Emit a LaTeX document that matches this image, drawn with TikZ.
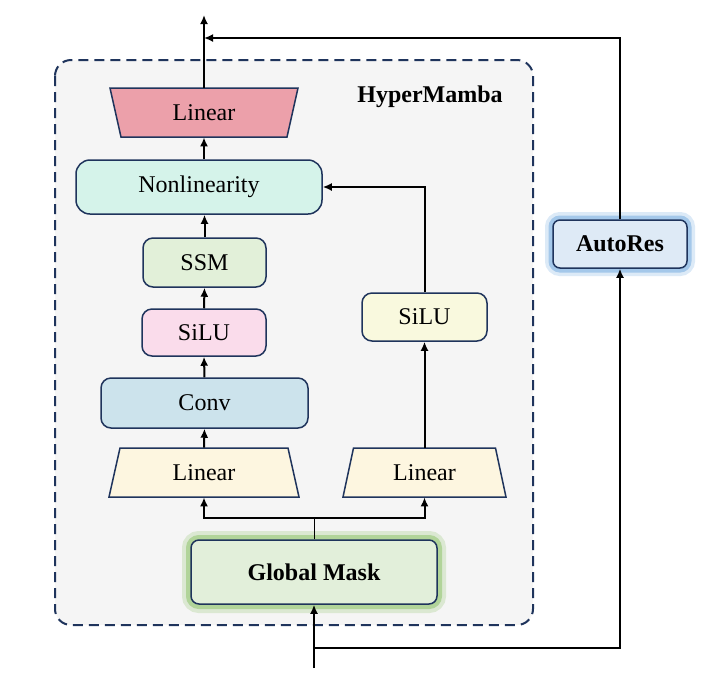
\documentclass[tikz,border=0pt]{standalone}
\usepackage{fontspec}
\setmainfont{Liberation Serif}
\usetikzlibrary{arrows.meta}
\pgfdeclarelayer{background}
\pgfsetlayers{background,main}

\definecolor{navy}{RGB}{31,52,92}
\definecolor{panelgray}{RGB}{245,245,245}
\definecolor{linred}{RGB}{236,160,170}
\definecolor{mint}{RGB}{213,243,234}
\definecolor{ssmgreen}{RGB}{226,240,217}
\definecolor{silupink}{RGB}{250,220,235}
\definecolor{convblue}{RGB}{204,227,236}
\definecolor{linyellow}{RGB}{253,246,224}
\definecolor{siluyellow}{RGB}{249,249,222}
\definecolor{maskfill}{RGB}{226,239,218}
\definecolor{maskglow}{RGB}{160,204,130}
\definecolor{resfill}{RGB}{222,234,246}
\definecolor{resglow}{RGB}{140,185,228}

% trapezoid behind a node: name, half bottom, half top, half height, fill
\newcommand{\linshape}[5]{%
  \begin{pgfonlayer}{background}
    \draw[draw=navy, line width=0.75pt, fill=#5]
      ([shift={(-#2,#4)}]#1.center) -- ([shift={(#2,#4)}]#1.center)
      -- ([shift={(#3,-#4)}]#1.center) -- ([shift={(-#3,-#4)}]#1.center) -- cycle;
  \end{pgfonlayer}}

\begin{document}
\begin{tikzpicture}[x=0.5pt, y=-0.5pt, font=\fontsize{12}{14}\selectfont,
  blk/.style={draw=navy, line width=0.75pt, rounded corners=5pt, inner sep=0pt},
  lin/.style={inner sep=0pt, minimum height=24.5pt},
  arr/.style={-{Latex[length=4.5pt,width=4pt]}, line width=1pt},
  glowg/.style={preaction={draw=maskglow, line width=9pt, opacity=0.3},
    preaction={draw=maskglow, line width=5pt, opacity=0.7}},
  glowb/.style={preaction={draw=resglow, line width=8pt, opacity=0.3},
    preaction={draw=resglow, line width=4.5pt, opacity=0.7}}]
  \useasboundingbox (0,0) rectangle (714,693);

  % panel
  \begin{pgfonlayer}{background}
    \draw[draw=navy, fill=panelgray, line width=1pt, dash pattern=on 5pt off 3pt,
      rounded corners=8pt] (55,60) rectangle (533,625);
  \end{pgfonlayer}
  \node[font=\fontsize{12}{14}\selectfont\bfseries] (title) at (430,97) {HyperMamba};

  % left branch
  \node[lin, minimum width=94pt] (lin3) at (204,112.5) {Linear};
  \linshape{lin3}{83}{94}{24.5}{linred}
  \node[blk, fill=mint, rounded corners=7pt, minimum width=123pt, minimum height=27pt] (nonlin) at (199,187) {Nonlinearity};
  \node[blk, fill=ssmgreen, minimum width=61.5pt, minimum height=24.5pt] (ssm) at (204.5,262.5) {SSM};
  \node[blk, fill=silupink, minimum width=62pt, minimum height=23.5pt] (silu1) at (204,332.5) {SiLU};
  \node[blk, fill=convblue, minimum width=103.5pt, minimum height=25pt] (conv) at (204.5,403) {Conv};
  \node[lin, minimum width=95pt] (lin1) at (204,472.5) {Linear};
  \linshape{lin1}{95}{84}{24.5}{linyellow}

  % right branch
  \node[blk, fill=siluyellow, minimum width=62.5pt, minimum height=24pt] (silu2) at (424.5,317) {SiLU};
  \node[lin, minimum width=81.5pt] (lin2) at (424.5,472.5) {Linear};
  \linshape{lin2}{81.5}{71}{24.5}{linyellow}

  % mask and residual
  \node[blk, glowg, fill=maskfill, rounded corners=4pt, minimum width=123pt, minimum height=32pt,
    font=\fontsize{12}{14}\selectfont\bfseries] (mask) at (314,572) {Global Mask};
  \node[blk, glowb, fill=resfill, rounded corners=3.5pt, minimum width=67pt, minimum height=24pt,
    font=\fontsize{12}{14}\selectfont\bfseries] (autores) at (620,244) {AutoRes};

  \coordinate (in) at (314,668);
  \coordinate (br) at (314,648);
  \coordinate (split) at (314,518);
  \coordinate (out) at (204,15);
  \coordinate (fb) at (204,38);

  % connectors
  \draw[arr] (in) -- (mask.south);
  \draw[arr] (br) -| (autores.south);
  \draw (mask.north) -- (split);
  \draw[arr] (split) -| (lin1.south);
  \draw[arr] (split) -| (lin2.south);
  \draw[arr] (lin1.north) -- (conv.south);
  \draw[arr] (conv.north) -- (silu1.south);
  \draw[arr] (silu1.north) -- (ssm.south);
  \draw[arr] (ssm.north) -- (nonlin.south -| ssm.north);
  \draw[arr] (nonlin.north -| lin3.south) -- (lin3.south);
  \draw[arr] (lin3.north) -- (out);
  \draw[arr] (lin2.north) -- (silu2.south);
  \draw[arr] (silu2.north) |- (nonlin.east);
  \draw[arr] (autores.north) |- (fb);
\end{tikzpicture}
\end{document}
